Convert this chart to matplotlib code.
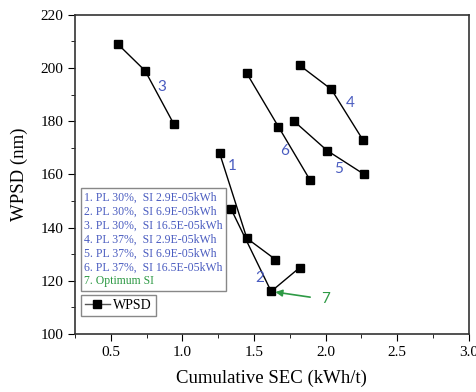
import matplotlib
matplotlib.use("Agg")
import matplotlib.pyplot as plt
from matplotlib.lines import Line2D
from matplotlib.ticker import MultipleLocator

plt.rcParams["font.family"] = ["Liberation Serif"]

BLUE = "#4a5cc0"
GREEN = "#2e9a45"

# six runs, three points each (cumulative SEC, WPSD)
sec_1 = [1.26, 1.45, 1.65]
wpsd_1 = [168, 136, 128]
sec_2 = [1.34, 1.62, 1.82]
wpsd_2 = [147, 116, 125]
sec_3 = [0.55, 0.74, 0.94]
wpsd_3 = [209, 199, 179]
sec_4 = [1.82, 2.04, 2.26]
wpsd_4 = [201, 192, 173]
sec_5 = [1.78, 2.01, 2.27]
wpsd_5 = [180, 169, 160]
sec_6 = [1.45, 1.67, 1.89]
wpsd_6 = [198, 178, 158]

run_labels = ["1", "2", "3", "4", "5", "6"]
label_pos = [(1.35, 163), (1.54, 121), (0.86, 193), (2.17, 187), (2.09, 162), (1.71, 169)]

notes = [
    "1. PL 30%,  SI 2.9E-05kWh",
    "2. PL 30%,  SI 6.9E-05kWh",
    "3. PL 30%,  SI 16.5E-05kWh",
    "4. PL 37%,  SI 2.9E-05kWh",
    "5. PL 37%,  SI 6.9E-05kWh",
    "6. PL 37%,  SI 16.5E-05kWh",
    "7. Optimum SI",
]

optimum = (1.62, 116)

fig = plt.figure(figsize=(4.77, 3.92), dpi=100)
ax = fig.add_axes([0.157, 0.148, 0.826, 0.814])

runs = [(sec_1, wpsd_1), (sec_2, wpsd_2), (sec_3, wpsd_3),
        (sec_4, wpsd_4), (sec_5, wpsd_5), (sec_6, wpsd_6)]
for xs, ys in runs:
    ax.plot(xs, ys, color="black", lw=1, marker="s", ms=5.5,
            markerfacecolor="black", markeredgecolor="black")

for lab, (lx, ly) in zip(run_labels, label_pos):
    ax.text(lx, ly, lab, color=BLUE, fontsize=11, ha="center", va="center",
            family="Lato")

ax.annotate("7", xy=optimum, xytext=(2.0, 113), color=GREEN, fontsize=11,
            ha="center", va="center", family="Lato",
            arrowprops=dict(arrowstyle="-|>", color=GREEN, lw=1.2,
                            shrinkA=6, shrinkB=3, mutation_scale=10))

ax.set_xlim(0.25, 3.0)
ax.set_ylim(100, 220)
ax.xaxis.set_major_locator(MultipleLocator(0.5))
ax.xaxis.set_minor_locator(MultipleLocator(0.25))
ax.yaxis.set_major_locator(MultipleLocator(20))
ax.yaxis.set_minor_locator(MultipleLocator(10))
ax.tick_params(which="both", direction="out", top=False, right=False, labelsize=11)
ax.tick_params(which="major", length=5)
ax.tick_params(which="minor", length=3)
for s in ax.spines.values():
    s.set_color("#333333")
    s.set_linewidth(1.2)

ax.set_xlabel("Cumulative SEC (kWh/t)", fontsize=13.5, labelpad=8)
ax.set_ylabel("WPSD (nm)", fontsize=13.5, labelpad=9)

# text box with run descriptions
blank = [Line2D([], [], linestyle="none") for _ in notes]
leg1 = ax.legend(blank, notes, loc="upper left", bbox_to_anchor=(0.015, 0.458),
                 handlelength=0, handletextpad=0, fontsize=8.5,
                 labelcolor=[BLUE] * 6 + [GREEN], fancybox=False,
                 edgecolor="#888888", framealpha=1, borderpad=0.3,
                 labelspacing=0.17, borderaxespad=0)
leg1.set_zorder(1)
ax.add_artist(leg1)

wpsd_handle = Line2D([], [], color="#555555", lw=1, marker="s", ms=5.5,
                     markerfacecolor="black", markeredgecolor="black")
ax.legend([wpsd_handle], ["WPSD"], loc="upper left", bbox_to_anchor=(0.015, 0.122),
          fontsize=10, fancybox=False, edgecolor="#888888", framealpha=1,
          borderpad=0.3, handlelength=1.8, handletextpad=0.2, borderaxespad=0)

fig.savefig("out.png", dpi=100)
